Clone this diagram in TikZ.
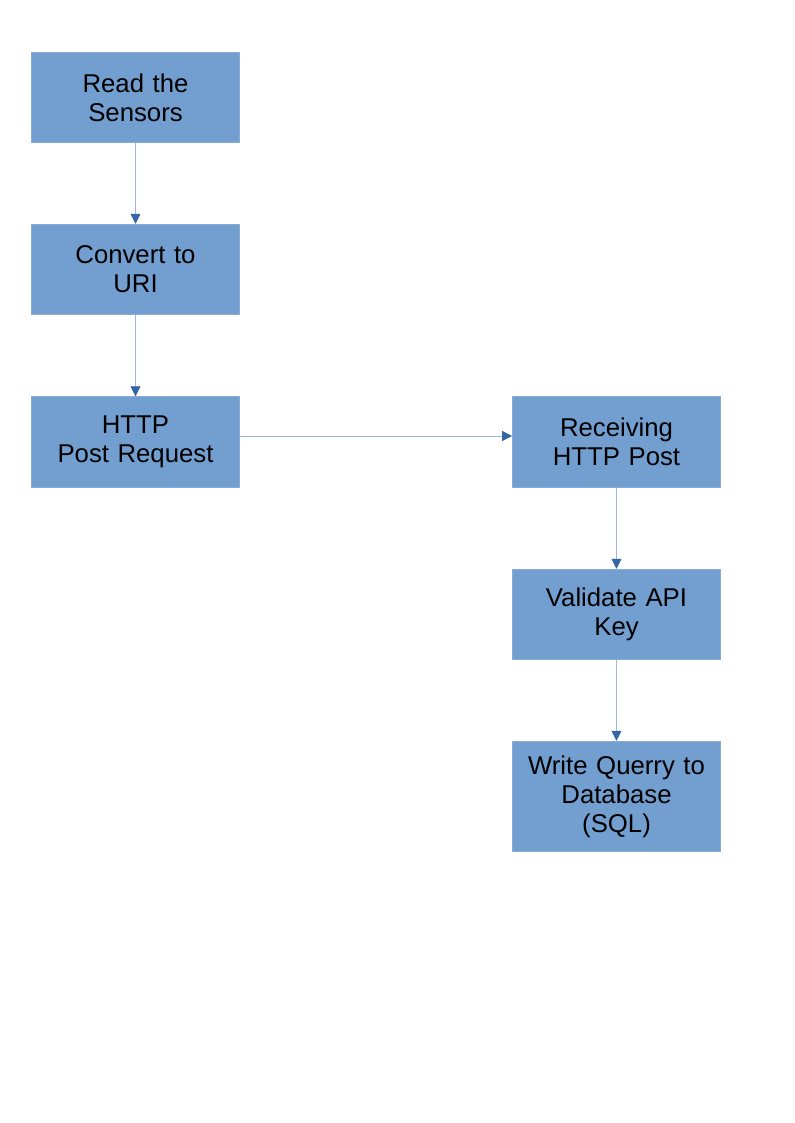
\documentclass[tikz,border=0pt]{standalone}
\usepackage{fontspec}
\setmainfont{Liberation Sans}
\usetikzlibrary{arrows.meta}
\definecolor{boxfill}{HTML}{729FCF}
\definecolor{boxedge}{HTML}{86ACD8}
\definecolor{linecol}{HTML}{9DB8DE}
\definecolor{tipcol}{HTML}{3465A4}
\tikzset{
  stepbox/.style={rectangle, fill=boxfill, draw=boxedge, line width=0.6pt,
    minimum width=156pt, minimum height=68pt, inner sep=0pt,
    text width=155pt, align=center,
    font=\fontsize{19.3}{21.75}\selectfont},
  flow/.style={draw=linecol, line width=0.6pt, -{Triangle[length=7.5pt,width=7.5pt,color=tipcol]}}
}
\begin{document}
\begin{tikzpicture}[x=0.75pt,y=-0.75pt]
\useasboundingbox (0,0) rectangle (794,1123);
\node[stepbox] (b1) at (135.5,97.5) {Read the\\Sensors};
\node[stepbox] (b2) at (135.5,269.5) {Convert to\\URI};
\node[stepbox] (b3) at (135.5,442) {HTTP\\Post Request};
\node[stepbox] (b4) at (616.5,442) {Receiving\\HTTP Post};
\node[stepbox] (b5) at (616.5,614.5) {Validate API\\Key};
\node[stepbox, minimum height=83pt] (b6) at (616.5,796.5) {Write Querry to\\Database\\(SQL)};
\draw[flow] (b1.south) -- (b2.north);
\draw[flow] (b2.south) -- (b3.north);
\draw[flow] ([yshift=4.5pt]b3.east) -- ([yshift=4.5pt]b4.west);
\draw[flow] (b4.south) -- (b5.north);
\draw[flow] (b5.south) -- (b6.north);
\end{tikzpicture}
\end{document}
